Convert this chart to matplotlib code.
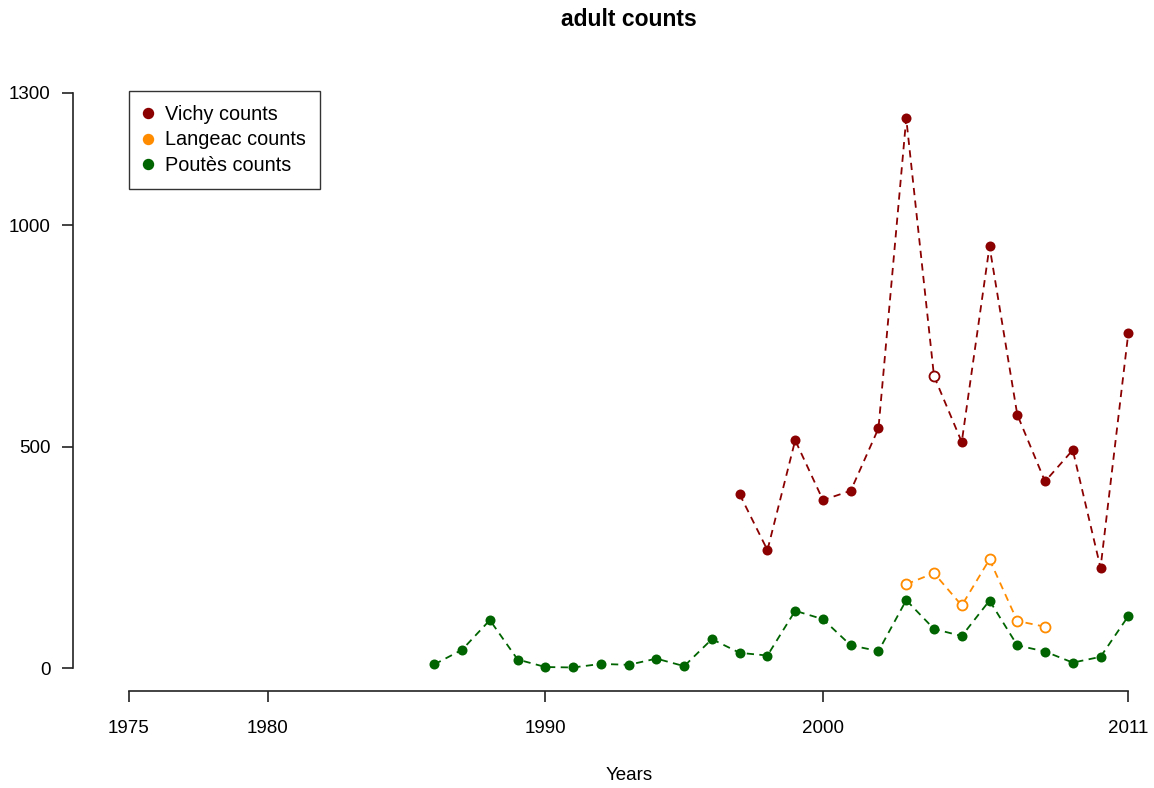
import matplotlib.pyplot as plt
from matplotlib.lines import Line2D

plt.rcParams['font.family'] = ['Liberation Sans', 'DejaVu Sans']

# yearly adult counts
vichy_years = list(range(1997, 2012))
vichy_counts = [393, 267, 515, 380, 401, 542, 1242, 660, 511, 953, 573, 422, 493, 227, 757]
vichy_open = [False] * 15
vichy_open[7] = True  # 2004 drawn as an open circle

langeac_years = list(range(2003, 2009))
langeac_counts = [190, 215, 142, 246, 107, 94]

poutes_years = list(range(1986, 2012))
poutes_counts = [9, 42, 109, 20, 3, 2, 10, 8, 22, 5, 66, 35, 29, 130, 111, 52, 39,
                 154, 89, 73, 153, 52, 38, 13, 26, 118]

x_ticks = [1975, 1980, 1990, 2000, 2011]
y_ticks = [0, 500, 1000, 1300]

c_vichy = '#8B0000'
c_langeac = '#FF8C00'
c_poutes = '#006400'

fig = plt.figure(figsize=(11.54, 7.88), dpi=100)
ax = fig.add_axes([73 / 1154, 97 / 788, (1150 - 73) / 1154, (691 - 70) / 788])

dash = (0, (4, 3))
ms = 7.2

# Vichy
ax.plot(vichy_years, vichy_counts, color=c_vichy, linestyle=dash, lw=1.3)
filled_x = [x for x, o in zip(vichy_years, vichy_open) if not o]
filled_y = [y for y, o in zip(vichy_counts, vichy_open) if not o]
open_x = [x for x, o in zip(vichy_years, vichy_open) if o]
open_y = [y for y, o in zip(vichy_counts, vichy_open) if o]
ax.plot(filled_x, filled_y, 'o', color=c_vichy, ms=ms, mew=0)
ax.plot(open_x, open_y, 'o', mfc='white', mec=c_vichy, ms=ms, mew=1.3)

# Langeac
ax.plot(langeac_years, langeac_counts, color=c_langeac, linestyle=dash, lw=1.3)
ax.plot(langeac_years, langeac_counts, 'o', mfc='white', mec=c_langeac, ms=ms, mew=1.3)

# Poutes
ax.plot(poutes_years, poutes_counts, color=c_poutes, linestyle=dash, lw=1.3)
ax.plot(poutes_years, poutes_counts, 'o', color=c_poutes, ms=ms, mew=0)

ax.set_xlim(1975 - 56 / 27.76, 2011 + 21.7 / 27.76)
ax.set_ylim(-22.7 / 0.444, 1300 + 22.7 / 0.444)

for s in ['top', 'right']:
    ax.spines[s].set_visible(False)
ax.spines['left'].set_bounds(0, 1300)
ax.spines['bottom'].set_bounds(1975, 2011)
ax.spines['left'].set_linewidth(1.2)
ax.spines['bottom'].set_linewidth(1.2)
ax.spines['left'].set_color('#222222')
ax.spines['bottom'].set_color('#222222')

ax.set_xticks(x_ticks)
ax.set_xticklabels([str(t) for t in x_ticks])
ax.set_yticks(y_ticks)
ax.set_yticklabels([str(t) for t in y_ticks])
ax.tick_params(axis='both', length=8, width=1.2, color='#222222', labelsize=13.5)
ax.tick_params(axis='y', pad=8)
ax.tick_params(axis='x', pad=13)

# R centres the axis label and title over the plot region
ax.set_xlabel('Years', fontsize=13.5, va='center')
ax.xaxis.set_label_coords((629 - 73) / 1077, (691 - 776) / 621)
fig.text(628.5 / 1154, 1 - 20 / 788, 'adult counts', ha='center', va='center',
         fontsize=16.5, fontweight='bold')

handles = [Line2D([], [], marker='o', color=c, linestyle='none', ms=7.2)
           for c in (c_vichy, c_langeac, c_poutes)]
leg = ax.legend(handles, ['Vichy counts', 'Langeac counts', 'Poutès counts'],
                loc='upper left', bbox_to_anchor=((129 - 73) / 1077, (691 - 91) / 621),
                fontsize=14.3, frameon=True, fancybox=False, handlelength=0.5,
                handletextpad=0.6, borderpad=0.7, labelspacing=0.33, borderaxespad=0)
leg.get_frame().set_edgecolor('black')
leg.get_frame().set_linewidth(1.0)

fig.savefig('out.png', dpi=100)
